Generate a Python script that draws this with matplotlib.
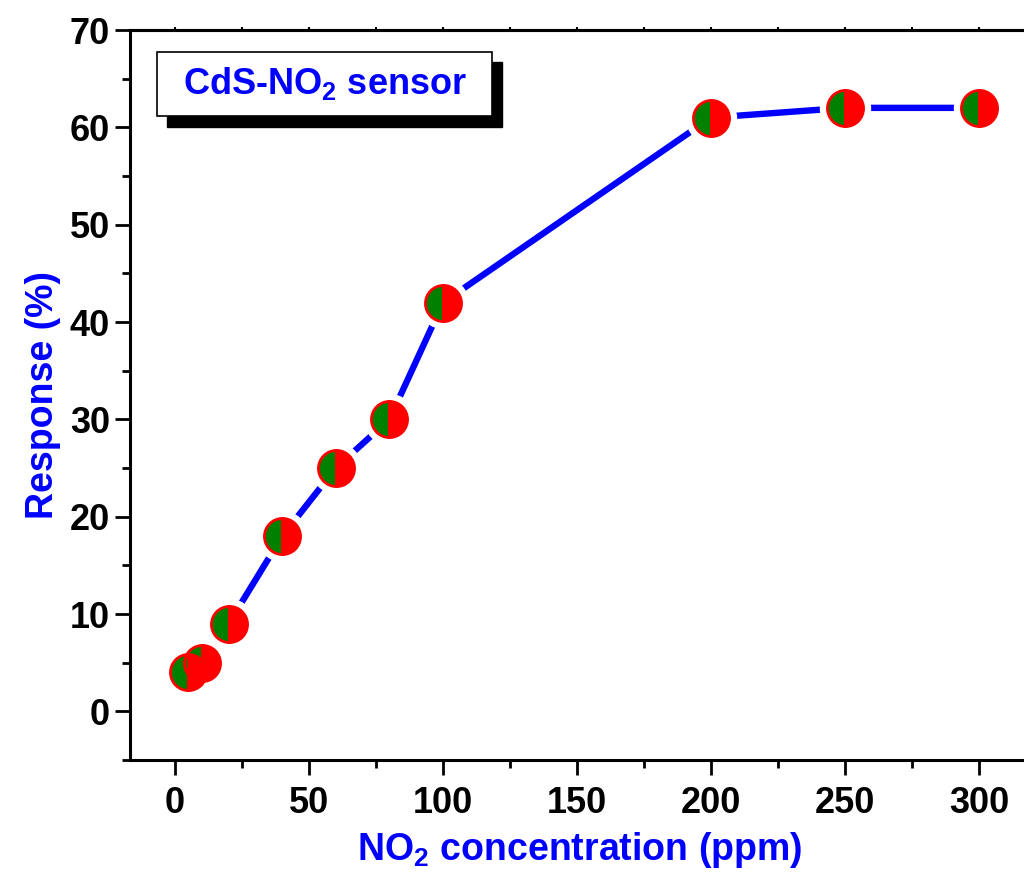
import numpy as np
import matplotlib.pyplot as plt
from matplotlib.patches import Rectangle
from matplotlib.ticker import MultipleLocator

plt.rcParams['font.family'] = ['Liberation Sans', 'DejaVu Sans']
plt.rcParams['font.weight'] = 'bold'
plt.rcParams['mathtext.fontset'] = 'custom'
plt.rcParams['mathtext.rm'] = 'Liberation Sans:bold'
plt.rcParams['mathtext.bf'] = 'Liberation Sans:bold'
plt.rcParams['mathtext.it'] = 'Liberation Sans:bold'

# NO2 concentration (ppm) vs response (%)
conc = [5, 10, 20, 40, 60, 80, 100, 200, 250, 300]
response = [4, 5, 9, 18, 25, 30, 42, 61, 62, 62]

fig = plt.figure(figsize=(10.24, 8.86), dpi=100)
ax = fig.add_axes([130 / 1024, 1 - 760 / 886, 900 / 1024, 730 / 886])

# line first, then white discs to make Origin style gaps, then the half filled markers
ax.plot(conc, response, color='#0000ff', lw=4.6, solid_capstyle='round', zorder=2)
ax.plot(conc, response, 'o', ms=36, mfc='white', mec='white', zorder=3)
ax.plot(conc, response, 'o', ms=26, fillstyle='left', mfc='#008000',
        mfcalt='#ff0000', mec='#ff0000', mew=2, zorder=4)

ax.set_xlim(-16.8, 319)
ax.set_ylim(-5, 70)
ax.xaxis.set_major_locator(MultipleLocator(50))
ax.xaxis.set_minor_locator(MultipleLocator(25))
ax.yaxis.set_major_locator(MultipleLocator(10))
ax.yaxis.set_minor_locator(MultipleLocator(5))

for s in ['left', 'bottom', 'top']:
    ax.spines[s].set_linewidth(2.2)
ax.spines['right'].set_visible(False)

ax.tick_params(which='both', direction='out', width=2, labelsize=26, colors='black')
ax.tick_params(which='major', length=11)
ax.tick_params(which='minor', length=6)
ax.tick_params(axis='x', which='both', pad=8)

# tiny ticks on the top frame
sec = ax.secondary_xaxis('top')
sec.xaxis.set_major_locator(MultipleLocator(50))
sec.xaxis.set_minor_locator(MultipleLocator(25))
sec.tick_params(which='both', direction='out', length=2.5, width=1.5, labeltop=False)
sec.spines['top'].set_linewidth(2.2)

for lab in ax.get_xticklabels() + ax.get_yticklabels():
    lab.set_fontweight('bold')

ax.set_xlabel('NO$_2$ concentration (ppm)', fontsize=27, color='#0000ff',
              fontweight='bold', labelpad=6)
ax.set_ylabel('Response (%)', fontsize=27, color='#0000ff', fontweight='bold',
              labelpad=6)

# legend style box with black drop shadow
W, H = 1024, 886
fig.patches.append(Rectangle((167 / W, 1 - 127 / H), 335 / W, 65 / H,
                             transform=fig.transFigure, facecolor='black',
                             edgecolor='black', zorder=5))
fig.patches.append(Rectangle((157 / W, 1 - 116 / H), 335 / W, 64 / H,
                             transform=fig.transFigure, facecolor='white',
                             edgecolor='black', lw=1.2, zorder=6))
fig.text(325 / W, 1 - 84 / H, 'CdS-NO$_2$ sensor', fontsize=26,
         color='#0000ff', fontweight='bold', ha='center', va='center', zorder=7)

fig.savefig('out.png', dpi=100)
